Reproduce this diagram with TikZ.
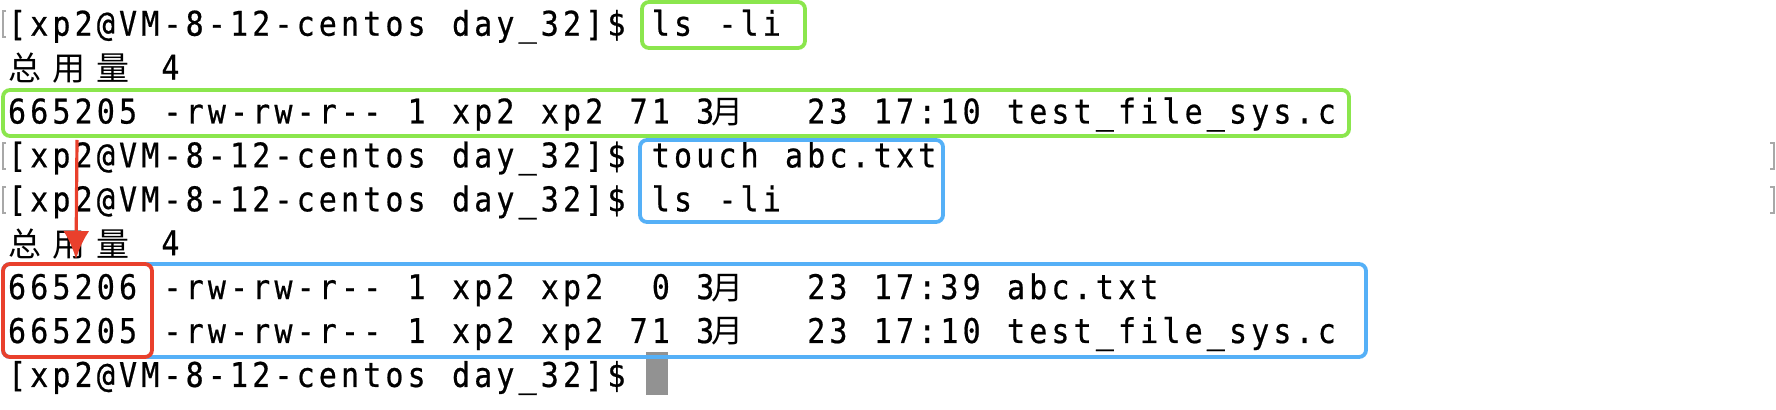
\documentclass[tikz,border=0pt]{standalone}
\usepackage{fontspec}
\usetikzlibrary{arrows.meta}
\newfontfamily\termfont[FakeStretch=0.88,FakeBold=0.6]{DejaVu Sans Mono}
\newfontfamily\cjk{Noto Sans CJK SC}
\definecolor{hlgreen}{HTML}{8BE64D}
\definecolor{hlblue}{HTML}{55B0F7}
\definecolor{hlred}{HTML}{E9402C}
\definecolor{cursorgrey}{HTML}{929292}
\definecolor{brgrey}{HTML}{A8A8A8}
\newlength\cw \setlength\cw{11.1pt}
\def\gridend{\gridend}
\newcommand\gridtext[1]{\gridloop#1\gridend}
\def\gridloop#1{\ifx#1\gridend\else\makebox[\cw][c]{#1}\expandafter\gridloop\fi}
\newcommand\yue{\makebox[\cw][l]{\hspace{-2.5pt}\cjk\fontsize{16pt}{16pt}\selectfont 月}}
\tikzset{
  term/.style={inner sep=0pt, outer sep=0pt, anchor=base west,
    font=\termfont\fontsize{17pt}{17pt}\selectfont},
  cjkch/.style={inner sep=0pt, outer sep=0pt, anchor=base,
    font=\cjk\fontsize{16.5pt}{16.5pt}\selectfont},
  hlbox/.style={line width=1.9pt, rounded corners=3.5pt},
  bracket/.style={draw=brgrey, line width=1.3pt},
  redarrow/.style={draw=hlred, line width=1.6pt, -{Latex[length=14pt,width=13pt]}}
}
\begin{document}
\begin{tikzpicture}[x=0.5pt,y=-0.5pt]
\useasboundingbox[fill=white] (0,0) rectangle (1776,410);
% text lines
\node[term] (l1) at (6,35.7) {\gridtext{[xp2@VM-8-12-centos~day\_32]\$~ls~-li}};
\node[cjkch] (l2a) at (25.5,80.5) {总};
\node[cjkch] (l2b) at (69,80.5) {用};
\node[cjkch] (l2c) at (112.5,80.5) {量};
\node[term] (l2d) at (161.4,79.6) {4};
\node[term] (l3) at (6,123.5) {\gridtext{665205~-rw-rw-r--~1~xp2~xp2~71~3\yue~~~23~17:10~test\_file\_sys.c}};
\node[term] (l4) at (6,167.4) {\gridtext{[xp2@VM-8-12-centos~day\_32]\$~touch~abc.txt}};
\node[term] (l5) at (6,211.3) {\gridtext{[xp2@VM-8-12-centos~day\_32]\$~ls~-li}};
\node[cjkch] (l6a) at (25.5,256.1) {总};
\node[cjkch] (l6b) at (69,256.1) {用};
\node[cjkch] (l6c) at (112.5,256.1) {量};
\node[term] (l6d) at (161.4,255.2) {4};
\node[term] (l7) at (6,299.1) {\gridtext{665206~-rw-rw-r--~1~xp2~xp2~~0~3\yue~~~23~17:39~abc.txt}};
\node[term] (l8) at (6,343.0) {\gridtext{665205~-rw-rw-r--~1~xp2~xp2~71~3\yue~~~23~17:10~test\_file\_sys.c}};
\node[term] (l9) at (6,386.9) {\gridtext{[xp2@VM-8-12-centos~day\_32]\$}};
% cursor
\fill[cursorgrey] (646,352) rectangle (668,395);
% grey partial brackets
\draw[bracket] (6,11) -- (3,11) -- (3,37) -- (6,37);
\draw[bracket] (6,143) -- (3,143) -- (3,169) -- (6,169);
\draw[bracket] (6,187) -- (3,187) -- (3,213) -- (6,213);
\draw[bracket] (1770,143) -- (1774,143) -- (1774,169) -- (1770,169);
\draw[bracket] (1770,187) -- (1774,187) -- (1774,213) -- (1770,213);
% highlight boxes
\draw[hlbox, draw=hlgreen] (642,2) rectangle (805,48);
\draw[hlbox, draw=hlgreen] (3,90) rectangle (1349,136);
\draw[hlbox, draw=hlblue] (640,140) rectangle (943,222);
\draw[hlbox, draw=hlblue] (3,264) rectangle (1366,357);
\draw[hlbox, draw=hlred] (3,264) rectangle (152,357);
% arrow
\coordinate (arrS) at (77,140);
\coordinate (arrE) at (76,259);
\draw[redarrow] (arrS) -- (arrE);
\end{tikzpicture}
\end{document}
